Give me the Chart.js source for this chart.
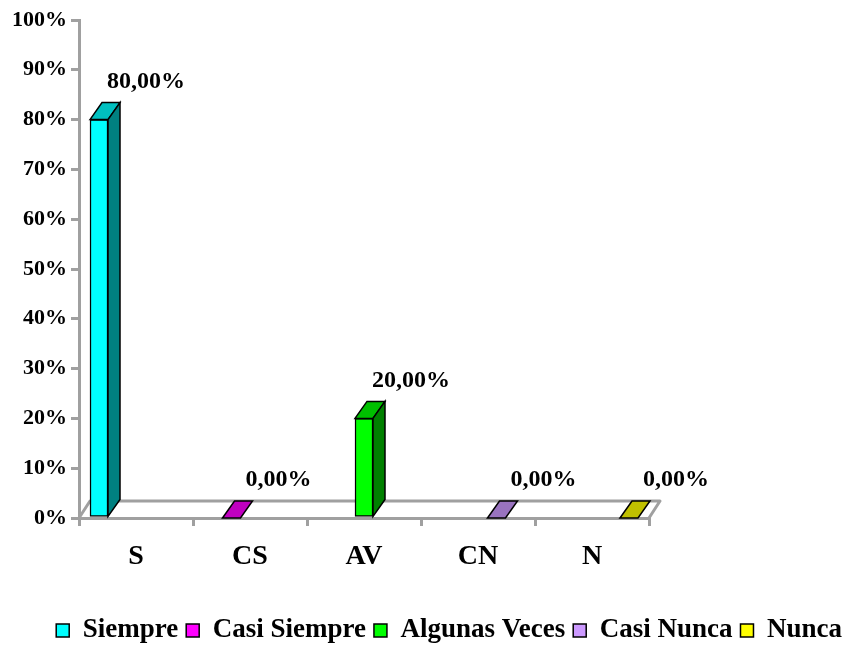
<!DOCTYPE html>
<html>
<head>
<meta charset="utf-8">
<script src="https://cdn.jsdelivr.net/npm/chart.js@4"></script>
<style>
html,body{margin:0;padding:0;background:#fff;}
#wrap{width:850px;height:645px;}
</style>
</head>
<body>
<div id="wrap"><canvas id="c" width="850" height="645"></canvas></div>
<script>
const categories = ['S', 'CS', 'AV', 'CN', 'N'];
const seriesNames = ['Siempre', 'Casi Siempre', 'Algunas Veces', 'Casi Nunca', 'Nunca'];
const values = [80, 0, 20, 0, 0];
const yMin = 0, yMax = 100, yStep = 10;

const frontColors = ['#00FFFF', '#FF00FF', '#00FF00', '#CC99FF', '#FFFF00'];
const topColors   = ['#00C0C0', '#C000C0', '#00C000', '#9973BF', '#C0C000'];
const sideColors  = ['#008080', '#800080', '#008000', '#664C80', '#808000'];

const DX = 12, DY = 17;
const GRAY = '#A0A0A0';
const FONT = "'Liberation Serif', 'Times New Roman', serif";

function fmt(v){ return v.toFixed(2).replace('.', ',') + '%'; }

const floorPlugin = {
  id: 'floor',
  beforeDatasetsDraw(chart){
    const {ctx, chartArea:a} = chart;
    ctx.save();
    ctx.strokeStyle = GRAY; ctx.lineWidth = 3; ctx.lineJoin = 'round';
    ctx.beginPath();
    ctx.moveTo(a.left, a.bottom);
    ctx.lineTo(a.left + DX - 1, a.bottom - DY);
    ctx.lineTo(a.right + DX - 1, a.bottom - DY);
    ctx.lineTo(a.right, a.bottom);
    ctx.stroke();
    ctx.restore();
  }
};

const bar3dPlugin = {
  id: 'bar3d',
  afterDatasetsDraw(chart){
    const ctx = chart.ctx;
    ctx.save();
    ctx.strokeStyle = '#000'; ctx.lineWidth = 1.5; ctx.lineJoin = 'miter';
    chart.data.datasets.forEach((ds, di) => {
      const meta = chart.getDatasetMeta(di);
      meta.data.forEach((el) => {
        const {x, y, base, width} = el.getProps(['x','y','base','width'], true);
        const l = x - width/2, r = x + width/2;
        const top = Math.min(y, base);
        ctx.fillStyle = topColors[di];
        ctx.beginPath();
        ctx.moveTo(l, top); ctx.lineTo(l + DX, top - DY);
        ctx.lineTo(r + DX, top - DY); ctx.lineTo(r, top); ctx.closePath();
        ctx.fill(); ctx.stroke();
        if (base - top > 0.5) {
          ctx.fillStyle = sideColors[di];
          ctx.beginPath();
          ctx.moveTo(r, top); ctx.lineTo(r + DX, top - DY);
          ctx.lineTo(r + DX, base - DY); ctx.lineTo(r, base); ctx.closePath();
          ctx.fill(); ctx.stroke();
        }
        const v = ds.data[0].y;
        ctx.fillStyle = '#000';
        ctx.font = 'bold 24px ' + FONT;
        ctx.textAlign = 'center'; ctx.textBaseline = 'middle';
        ctx.fillText(fmt(v), x + 47, top - 38);
      });
    });
    ctx.restore();
  }
};

const datasets = seriesNames.map((name, i) => ({
  label: name,
  data: [{x: i, y: values[i]}],
  xAxisID: 'xb',
  yAxisID: 'y',
  backgroundColor: frontColors[i],
  borderColor: '#000',
  borderWidth: 1.5,
  borderSkipped: false,
  barThickness: 18,
  grouped: false
}));

new Chart(document.getElementById('c'), {
  type: 'bar',
  data: { labels: categories, datasets },
  plugins: [floorPlugin, bar3dPlugin],
  options: {
    responsive: false,
    animation: false,
    devicePixelRatio: 1,
    layout: { padding: { top: 20, left: 0, right: 0, bottom: -9 } },
    plugins: {
      tooltip: { enabled: false },
      legend: {
        position: 'bottom',
        align: 'end',
        labels: {
          color: '#000',
          font: { family: FONT, weight: 'bold', size: 27, lineHeight: 1 },
          boxWidth: 13, boxHeight: 13,
          padding: 8
        }
      }
    },
    scales: {
      x: {
        type: 'category',
        position: 'bottom',
        offset: true,
        grid: { offset: true, drawOnChartArea: false, color: GRAY, lineWidth: 3, tickLength: 8 },
        border: { display: true, color: GRAY, width: 3 },
        ticks: { color: '#000', font: { family: FONT, weight: 'bold', size: 28 }, padding: 14 },
        afterFit(s){ s.height = 91; }
      },
      xb: {
        type: 'linear',
        display: false,
        offset: false,
        min: -0.151,
        max: 4.151
      },
      y: {
        position: 'left',
        min: yMin, max: yMax,
        ticks: { stepSize: yStep, color: '#000', font: { family: FONT, weight: 'bold', size: 22 }, padding: 4,
                 callback: (v) => v + '%' },
        grid: { drawOnChartArea: false, color: GRAY, lineWidth: 3, tickLength: 8 },
        border: { display: true, color: GRAY, width: 3 },
        afterFit(s){ s.width = 79; }
      },
      yr: {
        position: 'right',
        display: true,
        ticks: { display: false },
        grid: { display: false, drawTicks: false },
        border: { display: false },
        afterFit(s){ s.width = 201; }
      }
    }
  }
});
</script>
</body>
</html>
